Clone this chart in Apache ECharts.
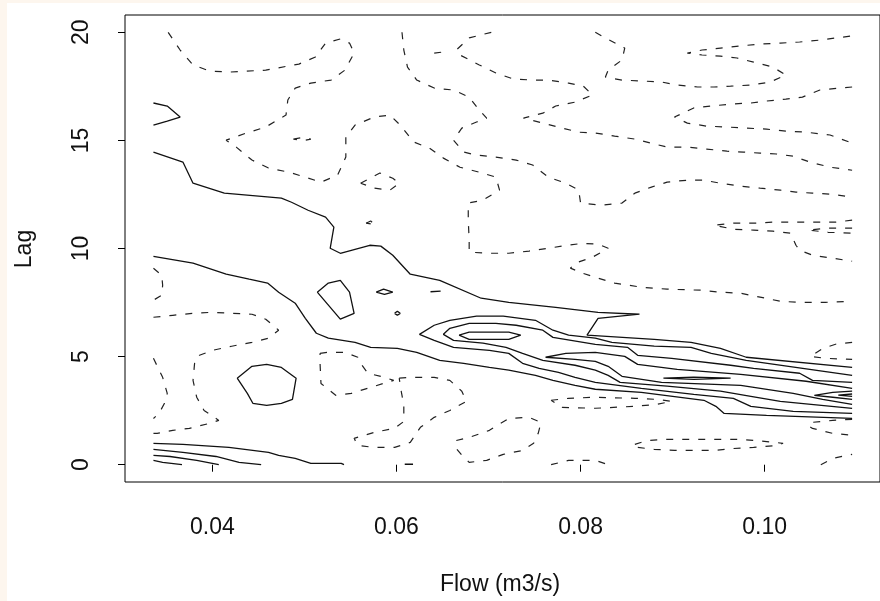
<!DOCTYPE html>
<html>
<head>
<meta charset="utf-8">
<script src="https://cdn.jsdelivr.net/npm/echarts@6/dist/echarts.min.js"></script>
<style>
html,body{margin:0;padding:0;background:#fdf6ee;width:880px;height:601px;overflow:hidden;}
#c{position:absolute;left:7px;top:3px;width:873px;height:598px;background:#fff;}
</style>
</head>
<body>
<div id="c"></div>
<script>
// ---- axis ticks ----
const xTicks = [0.04, 0.06, 0.08, 0.10];
const yTicks = [0, 5, 10, 15, 20];

// ---- solid contours [flow, lag] ----
const solidV = [[0.0336,16.73],[0.0351,16.59],[0.0365,16.08],[0.0351,15.89],[0.0336,15.71]];
const solidUpper = [[0.0336,14.46],[0.0368,14.00],[0.0379,13.02],[0.0413,12.56],[0.0475,12.33],[0.0486,12.14],[0.0504,11.77],[0.0523,11.45],[0.0532,10.99],[0.0528,10.01],[0.0539,9.78],[0.0571,10.15],[0.0583,10.11],[0.0596,9.69],[0.0615,8.81],[0.0647,8.53],[0.0692,7.70],[0.0722,7.51],[0.0773,7.28],[0.0819,7.05],[0.0864,6.96],[0.0819,6.77],[0.0807,5.99],[0.0880,5.80],[0.0920,5.66],[0.0952,5.38],[0.0980,4.97],[0.1095,4.50]];
const solidLower = [[0.0336,9.64],[0.0379,9.32],[0.0415,8.81],[0.0440,8.58],[0.0460,8.40],[0.0472,7.98],[0.0490,7.47],[0.0501,6.77],[0.0513,6.08],[0.0526,5.85],[0.0555,5.66],[0.0572,5.43],[0.0601,5.38],[0.0622,5.20],[0.0647,4.83],[0.0673,4.69],[0.0701,4.50],[0.0722,4.37],[0.0751,4.13],[0.0770,3.90],[0.0794,3.67],[0.0816,3.49],[0.0866,3.35],[0.0934,2.98],[0.0947,2.70],[0.0956,2.37],[0.1002,2.28],[0.1095,2.14]];
const solidRidge1 = [[0.1095,4.13],[0.0980,4.83],[0.0942,5.15],[0.0920,5.43],[0.0880,5.48],[0.0834,5.66],[0.0816,5.85],[0.0787,5.99],[0.0770,6.22],[0.0751,6.68],[0.0716,6.87],[0.0687,6.87],[0.0658,6.68],[0.0641,6.45],[0.0625,6.03],[0.0641,5.75],[0.0662,5.43],[0.0701,5.29],[0.0722,5.15],[0.0737,4.69],[0.0755,4.46],[0.0776,4.27],[0.0794,4.04],[0.0816,3.81],[0.0866,3.53],[0.0923,3.25],[0.0966,3.07],[0.0985,2.70],[0.1031,2.47],[0.1095,2.37]];
const solidRidge2 = [[0.1095,3.81],[0.1052,3.90],[0.1038,4.23],[0.0988,4.46],[0.0963,4.60],[0.0899,4.92],[0.0862,5.06],[0.0851,5.43],[0.0816,5.57],[0.0770,5.89],[0.0759,6.22],[0.0730,6.45],[0.0708,6.54],[0.0679,6.54],[0.0658,6.31],[0.0651,6.03],[0.0662,5.75],[0.0694,5.62],[0.0719,5.43],[0.0737,5.15],[0.0759,4.83],[0.0794,4.60],[0.0816,4.37],[0.0830,4.13],[0.0843,3.81],[0.0894,3.63],[0.0952,3.40],[0.0985,3.16],[0.1017,2.93],[0.1095,2.61]];
const solidRidge3 = [[0.0668,5.99],[0.0679,6.13],[0.0722,6.13],[0.0735,5.99],[0.0722,5.80],[0.0679,5.80],[0.0668,5.99]];
const solidTongue = [[0.1095,3.53],[0.1045,3.86],[0.0974,4.18],[0.0905,4.41],[0.0862,4.64],[0.0848,5.01],[0.0816,5.20],[0.0784,5.15],[0.0762,4.97],[0.0794,4.87],[0.0816,4.78],[0.0830,4.55],[0.0845,4.09],[0.0888,3.81],[0.0974,3.67],[0.1031,3.30],[0.1063,3.02],[0.1095,2.79]];
const solidLag4 = [[0.0890,4.00],[0.0923,4.05],[0.0963,4.00],[0.0923,3.95],[0.0890,4.00]];
const solidEdge1 = [[0.1095,3.40],[0.1074,3.35],[0.1054,3.21],[0.1074,3.12],[0.1095,3.02]];
const solidEdge2 = [[0.1095,3.27],[0.1080,3.22],[0.1095,3.16]];
const solidHexA = [[0.0514,7.98],[0.0526,8.40],[0.0539,8.53],[0.0549,7.98],[0.0554,7.00],[0.0539,6.73],[0.0514,7.98]];
const solidHexB = [[0.0427,4.00],[0.0443,4.55],[0.0459,4.64],[0.0475,4.50],[0.0491,4.00],[0.0487,3.02],[0.0475,2.84],[0.0459,2.74],[0.0444,2.84],[0.0438,3.30],[0.0427,4.00]];
const solidDiamond = [[0.0578,7.98],[0.0586,8.12],[0.0596,7.98],[0.0587,7.88],[0.0578,7.98]];
const solidDot = [[0.0598,7.00],[0.0601,7.10],[0.0604,7.00],[0.0601,6.91],[0.0598,7.00]];
const solidDash = [[0.0637,8.00],[0.0648,8.03],[0.0648,7.96],[0.0637,8.00]];
const solidBottom1 = [[0.0336,0.99],[0.0368,0.94],[0.0418,0.80],[0.0461,0.57],[0.0472,0.43],[0.0490,0.29],[0.0507,0.06],[0.0540,0.06],[0.0543,0]];
const solidBottom2 = [[0.0336,0.71],[0.0368,0.57],[0.0404,0.38],[0.0429,0.11],[0.0453,0]];
const solidBottom3 = [[0.0336,0.43],[0.0354,0.38],[0.0383,0.20],[0.0407,0]];
const solidBottom4 = [[0.0336,0.20],[0.0346,0.11],[0.0367,0]];
const solidBottom5 = [[0.0609,0.02],[0.0618,0.02]];

// ---- dashed contours [flow, lag] ----
const dashTopLeft = [[0.0352,20],[0.0365,19.18],[0.0379,18.49],[0.0397,18.21],[0.0418,18.16],[0.0458,18.25],[0.0494,18.53],[0.0512,18.86],[0.0523,19.50],[0.0539,19.69],[0.0549,19.50],[0.0554,19.04],[0.0544,18.25],[0.0529,17.79],[0.0507,17.65],[0.0490,17.42],[0.0482,16.87],[0.0480,16.17],[0.0458,15.62],[0.0437,15.34],[0.0415,15.01],[0.0426,14.69],[0.0443,14.09],[0.0461,13.72],[0.0483,13.53],[0.0494,13.39],[0.0518,13.07],[0.0536,13.39],[0.0545,14.23],[0.0545,15.15],[0.0555,15.71],[0.0576,16.08],[0.0593,16.17],[0.0604,15.71],[0.0619,14.92],[0.0636,14.64],[0.0651,14.18],[0.0669,13.76],[0.0690,13.53],[0.0708,13.30],[0.0712,12.70],[0.0694,12.24],[0.0678,12.10],[0.0678,11.31],[0.0679,10.38],[0.0679,9.83],[0.0701,9.78],[0.0722,9.78],[0.0744,9.88],[0.0780,10.11],[0.0802,10.24],[0.0819,10.20],[0.0830,10.01],[0.0813,9.60],[0.0794,9.32],[0.0789,9.09],[0.0802,8.86],[0.0816,8.67],[0.0837,8.40],[0.0866,8.21],[0.0894,8.12],[0.0931,8.07],[0.0952,7.98],[0.0974,7.93],[0.0995,7.75],[0.1017,7.56],[0.1038,7.51],[0.1066,7.51],[0.1095,7.56]];
const dashMidTop = [[0.0606,20],[0.0608,19.18],[0.0612,18.39],[0.0622,17.79],[0.0641,17.42],[0.0662,17.33],[0.0679,17.00],[0.0690,16.40],[0.0698,16.03],[0.0687,15.85],[0.0671,15.57],[0.0662,15.01],[0.0673,14.46],[0.0687,14.32],[0.0708,14.23],[0.0730,14.09],[0.0748,13.86],[0.0765,13.30],[0.0784,13.02],[0.0798,12.70],[0.0800,12.10],[0.0823,12.00],[0.0845,12.10],[0.0859,12.56],[0.0877,12.84],[0.0894,13.07],[0.0916,13.16],[0.0934,13.16],[0.0952,13.02],[0.0974,12.88],[0.0995,12.79],[0.1017,12.70],[0.1034,12.61],[0.1052,12.56],[0.1074,12.51],[0.1095,12.37]];
const dashTongueA = [[0.0703,20],[0.0679,19.74],[0.0665,19.18],[0.0669,18.95],[0.0690,18.49],[0.0708,18.12],[0.0727,17.84],[0.0748,17.79],[0.0765,17.79],[0.0787,17.65],[0.0803,17.51],[0.0813,17.10],[0.0794,16.77],[0.0773,16.59],[0.0759,16.26],[0.0738,16.03],[0.0759,15.80],[0.0780,15.57],[0.0798,15.38],[0.0816,15.34],[0.0837,15.20],[0.0859,15.06],[0.0877,14.87],[0.0894,14.69],[0.0916,14.69],[0.0937,14.60],[0.0959,14.50],[0.0977,14.46],[0.0995,14.41],[0.1013,14.37],[0.1031,14.27],[0.1049,14.00],[0.1071,13.76],[0.1095,13.62]];
const dashTopRight = [[0.0816,20],[0.0825,19.78],[0.0848,19.27],[0.0845,18.72],[0.0830,18.25],[0.0827,17.93],[0.0845,17.79],[0.0866,17.75],[0.0888,17.70],[0.0905,17.56],[0.0927,17.47],[0.0945,17.47],[0.0963,17.51],[0.0985,17.56],[0.1006,17.70],[0.1023,18.02],[0.1009,18.39],[0.0988,18.62],[0.0970,18.81],[0.0952,18.90],[0.0932,18.95],[0.0916,19.04],[0.0932,19.18],[0.0952,19.27],[0.0974,19.37],[0.0995,19.46],[0.1017,19.50],[0.1038,19.55],[0.1060,19.64],[0.1077,19.74],[0.1095,19.83]];
const dashTongueB = [[0.1095,17.47],[0.1081,17.42],[0.1060,17.33],[0.1041,17.00],[0.1023,16.91],[0.1002,16.82],[0.0985,16.73],[0.0963,16.68],[0.0942,16.59],[0.0923,16.50],[0.0902,16.08],[0.0916,15.80],[0.0937,15.66],[0.0959,15.62],[0.0980,15.57],[0.1002,15.52],[0.1023,15.43],[0.1045,15.38],[0.1071,15.25],[0.1092,14.92],[0.1095,14.87]];
const dashLoop13 = [[0.0561,13.02],[0.0582,13.49],[0.0596,13.25],[0.0603,13.02],[0.0593,12.70],[0.0576,12.79],[0.0561,13.02]];
const dashTiny15 = [[0.0488,15.06],[0.0498,15.14],[0.0507,15.06],[0.0498,14.98],[0.0488,15.06]];
const dashTiny11 = [[0.0567,11.17],[0.0572,11.27],[0.0577,11.08],[0.0572,11.14],[0.0567,11.17]];
const dashTiny19 = [[0.0641,19.04],[0.0651,19.09],[0.0651,19.00],[0.0641,19.04]];
const dashTongueC = [[0.1095,11.31],[0.1077,11.22],[0.1052,11.22],[0.1031,11.22],[0.1009,11.22],[0.0988,11.17],[0.0966,11.17],[0.0945,11.08],[0.0966,10.89],[0.0988,10.85],[0.1009,10.80],[0.1028,10.71],[0.1034,10.15],[0.1038,9.92],[0.1052,9.69],[0.1074,9.55],[0.1095,9.41]];
const dashEdge11 = [[0.1095,10.94],[0.1069,10.94],[0.1047,10.85],[0.1069,10.75],[0.1095,10.71]];
const dashLeft = [[0.0336,6.82],[0.0357,6.91],[0.0379,7.00],[0.0400,7.05],[0.0421,7.00],[0.0443,6.96],[0.0458,6.73],[0.0472,6.22],[0.0461,5.85],[0.0443,5.66],[0.0421,5.48],[0.0400,5.29],[0.0386,5.06],[0.0381,4.83],[0.0379,3.90],[0.0383,3.12],[0.0391,2.51],[0.0407,2.05],[0.0397,1.91],[0.0375,1.68],[0.0357,1.59],[0.0340,1.45],[0.0336,1.45]];
const dashBumpA = [[0.0336,9.09],[0.0345,8.76],[0.0346,8.30],[0.0345,7.84],[0.0336,7.61]];
const dashBumpB = [[0.0336,4.92],[0.0346,4.04],[0.0351,3.30],[0.0348,2.84],[0.0342,2.37],[0.0336,2.14]];
const dashLoopA = [[0.0517,5.15],[0.0526,5.20],[0.0544,5.20],[0.0558,4.97],[0.0561,4.69],[0.0569,4.23],[0.0587,4.04],[0.0597,3.90],[0.0572,3.58],[0.0551,3.30],[0.0534,3.21],[0.0518,3.76],[0.0517,4.69],[0.0517,5.15]];
const dashLoopB = [[0.0603,4.00],[0.0615,4.04],[0.0641,4.04],[0.0658,3.90],[0.0671,3.40],[0.0676,2.93],[0.0658,2.51],[0.0641,2.19],[0.0626,1.73],[0.0615,1.03],[0.0598,0.80],[0.0576,0.80],[0.0558,0.89],[0.0554,1.22],[0.0576,1.50],[0.0598,1.68],[0.0608,2.00],[0.0608,2.74],[0.0605,3.44],[0.0603,4.00]];
const dashLoopC = [[0.0665,1.12],[0.0679,1.26],[0.0701,1.59],[0.0722,2.14],[0.0744,2.19],[0.0757,1.96],[0.0754,1.45],[0.0749,0.99],[0.0737,0.66],[0.0716,0.48],[0.0698,0.20],[0.0679,0.11],[0.0673,0.34],[0.0665,0.75],[0.0665,1.12]];
const dashLoopD = [[0.0768,2.98],[0.0787,3.07],[0.0816,3.12],[0.0859,3.07],[0.0884,3.02],[0.0899,2.93],[0.0883,2.79],[0.0859,2.70],[0.0816,2.61],[0.0780,2.65],[0.0768,2.98]];
const dashBumpC = [[0.0768,0],[0.0787,0.20],[0.0816,0.20],[0.0830,0]];
const dashLoopE = [[0.0859,0.94],[0.0872,1.12],[0.0894,1.17],[0.0920,1.17],[0.0945,1.17],[0.0970,1.17],[0.0991,1.12],[0.1020,0.99],[0.1013,0.89],[0.0988,0.80],[0.0966,0.75],[0.0945,0.66],[0.0923,0.66],[0.0902,0.66],[0.0880,0.71],[0.0862,0.80],[0.0859,0.94]];
const dashEdge5 = [[0.1095,5.66],[0.1077,5.57],[0.1063,5.38],[0.1050,5.01],[0.1066,4.92],[0.1095,4.87]];
const dashEdge2 = [[0.1095,2.10],[0.1074,2.05],[0.1052,1.96],[0.1047,1.82],[0.1052,1.68],[0.1074,1.45],[0.1095,1.36]];
const dashEdge0 = [[0.1061,0],[0.1074,0.29],[0.1095,0.48]];

const solidContours = [solidV, solidUpper, solidLower, solidRidge1, solidRidge2, solidRidge3, solidTongue, solidLag4, solidEdge1, solidEdge2, solidHexA, solidHexB, solidDiamond, solidDot, solidDash, solidBottom1, solidBottom2, solidBottom3, solidBottom4, solidBottom5];
const dashedContours = [dashTopLeft, dashMidTop, dashTongueA, dashTopRight, dashTongueB, dashLoop13, dashTiny15, dashTiny11, dashTiny19, dashTongueC, dashEdge11, dashLeft, dashBumpA, dashBumpB, dashLoopA, dashLoopB, dashLoopC, dashLoopD, dashBumpC, dashLoopE, dashEdge5, dashEdge2, dashEdge0];

const FONT = '"Liberation Sans", Arial, Helvetica, sans-serif';
const FS = 23;

const series = [];
solidContours.forEach(d => series.push({
  type: 'line', data: d, symbol: 'none', showSymbol: false, silent: true, clip: true,
  lineStyle: {color: '#111', width: 1.3}
}));
dashedContours.forEach(d => series.push({
  type: 'line', data: d, symbol: 'none', showSymbol: false, silent: true, clip: true,
  lineStyle: {color: '#222', width: 1.2, type: [7, 9]}
}));

const chart = echarts.init(document.getElementById('c'), null, {renderer: 'canvas'});
chart.setOption({
  animation: false,
  backgroundColor: '#fff',
  grid: {left: 118, top: 12, width: 763, height: 467, show: true, borderColor: '#000', borderWidth: 1, backgroundColor: '#fff'},
  xAxis: {
    type: 'value', min: 0.03051, max: 0.11253,
    axisLine: {show: false},
    splitLine: {show: false},
    axisTick: {show: true, inside: false, length: 7, customValues: xTicks, lineStyle: {color: '#000', width: 1}},
    axisLabel: {customValues: xTicks, formatter: v => v.toFixed(2), fontSize: FS, fontFamily: FONT, color: '#111', margin: 34}
  },
  yAxis: {
    type: 'value', min: -0.8, max: 20.8,
    axisLine: {show: false},
    splitLine: {show: false},
    axisTick: {show: true, inside: false, length: 7, customValues: yTicks, lineStyle: {color: '#000', width: 1}},
    axisLabel: {customValues: yTicks, rotate: 90, fontSize: FS, fontFamily: FONT, color: '#111', margin: 32}
  },
  graphic: [
    {type: 'text', x: 493, y: 582, style: {text: 'Flow (m3/s)', font: FS + 'px ' + FONT, fill: '#111', textAlign: 'center', textVerticalAlign: 'middle'}},
    {type: 'text', x: 18, y: 246, rotation: Math.PI / 2, style: {text: 'Lag', font: FS + 'px ' + FONT, fill: '#111', textAlign: 'center', textVerticalAlign: 'middle'}}
  ],
  series: series
});
</script>
</body>
</html>
